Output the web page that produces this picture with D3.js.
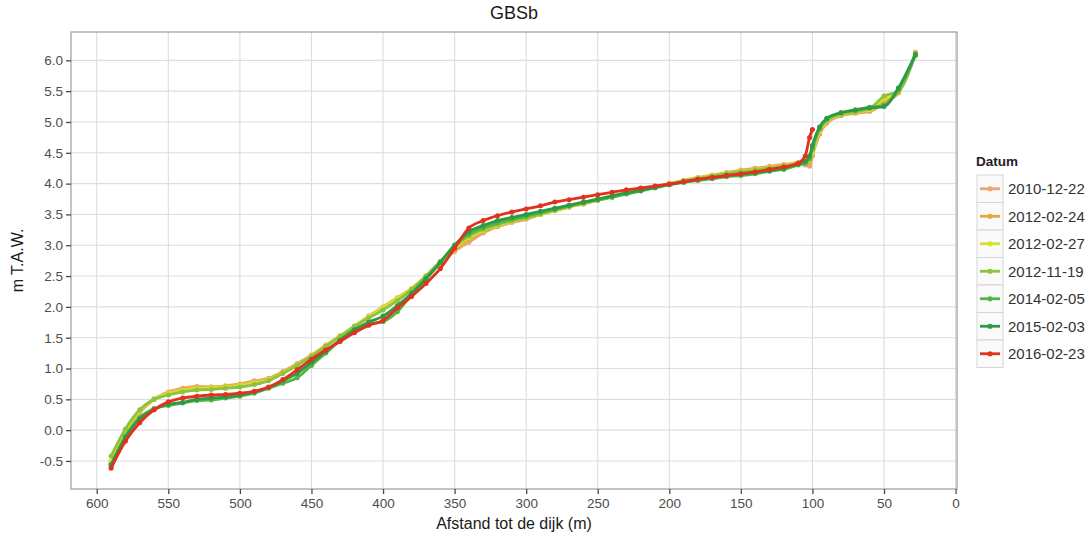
<!DOCTYPE html>
<html>
<head>
<meta charset="utf-8">
<script src="https://cdn.jsdelivr.net/npm/d3@7"></script>
<style>
  html, body { margin: 0; padding: 0; background: #fff; }
  svg { display: block; font-family: "Liberation Sans", Arial, Helvetica, sans-serif; }
</style>
</head>
<body>
<svg id="chart" width="1092" height="538"></svg>
<script>
// Cross-shore profile GBSb: bed level (m T.A.W.) against distance to the dike (m)
const distance = [590,580,570,560,550,540,530,520,510,500,490,480,470,460,450,440,430,420,410,400,
  390,380,370,360,350,340,330,320,310,300,290,280,270,260,250,240,230,220,210,200,
  190,180,170,160,150,140,130,120,110,105,102,100,95,90,80,70,60,50,40,28];

const dates = ["2010-12-22","2012-02-24","2012-02-27","2012-11-19","2014-02-05","2015-02-03","2016-02-23"];
const colors = ["#eea472","#e2a83c","#d6df2e","#8cc43f","#52b547","#2f9a45","#e0321f"];

const z20101222 = [-0.55,-0.05,0.28,0.50,0.62,0.68,0.71,0.70,0.72,0.75,0.80,0.84,0.95,1.08,1.22,1.38,1.52,1.68,1.84,1.98,
  2.12,2.28,2.48,2.70,2.90,3.05,3.20,3.30,3.37,3.42,3.50,3.56,3.62,3.68,3.73,3.79,3.85,3.90,3.95,4.00,
  4.05,4.10,4.14,4.18,4.22,4.25,4.28,4.31,4.33,4.30,4.28,4.45,4.80,4.98,5.10,5.14,5.17,5.30,5.48,6.12];
const z20120224 = [-0.52,-0.04,0.30,0.50,0.60,0.66,0.69,0.70,0.71,0.74,0.78,0.83,0.94,1.07,1.21,1.37,1.53,1.69,1.85,2.00,
  2.15,2.30,2.50,2.72,2.93,3.10,3.22,3.31,3.38,3.43,3.50,3.56,3.62,3.67,3.73,3.79,3.85,3.90,3.95,4.00,
  4.05,4.09,4.13,4.17,4.21,4.24,4.27,4.30,4.34,4.33,4.35,4.48,4.82,5.00,5.11,5.15,5.18,5.33,5.47,6.13];
const z20120227 = [-0.50,-0.02,0.31,0.51,0.60,0.65,0.68,0.69,0.70,0.73,0.77,0.82,0.93,1.06,1.21,1.37,1.53,1.69,1.84,1.99,
  2.14,2.30,2.50,2.73,2.95,3.12,3.24,3.32,3.39,3.44,3.50,3.56,3.62,3.67,3.73,3.79,3.84,3.89,3.94,3.99,
  4.04,4.09,4.13,4.17,4.20,4.23,4.26,4.29,4.34,4.35,4.38,4.50,4.85,5.01,5.12,5.16,5.20,5.38,5.50,6.11];
const z20121119 = [-0.42,0.02,0.33,0.50,0.57,0.62,0.65,0.66,0.68,0.70,0.74,0.80,0.92,1.05,1.20,1.36,1.52,1.68,1.82,1.95,
  2.10,2.28,2.50,2.74,2.98,3.15,3.26,3.34,3.40,3.45,3.51,3.57,3.63,3.68,3.73,3.78,3.84,3.89,3.94,3.99,
  4.04,4.08,4.12,4.16,4.19,4.22,4.25,4.28,4.33,4.36,4.42,4.55,4.88,5.02,5.13,5.17,5.22,5.42,5.50,6.10];
const z20140205 = [-0.58,-0.10,0.20,0.35,0.40,0.44,0.48,0.49,0.52,0.55,0.60,0.68,0.76,0.85,1.05,1.25,1.45,1.62,1.72,1.76,
  1.92,2.20,2.45,2.72,3.00,3.18,3.28,3.36,3.42,3.47,3.53,3.58,3.64,3.69,3.74,3.78,3.83,3.88,3.93,3.98,
  4.02,4.05,4.08,4.11,4.13,4.16,4.20,4.23,4.30,4.33,4.40,4.58,4.90,5.05,5.15,5.20,5.24,5.27,5.52,6.08];
const z20150203 = [-0.56,-0.12,0.18,0.33,0.42,0.45,0.50,0.52,0.54,0.57,0.62,0.69,0.80,0.92,1.10,1.28,1.46,1.63,1.75,1.85,
  2.02,2.22,2.46,2.72,3.00,3.22,3.32,3.40,3.45,3.50,3.55,3.60,3.65,3.70,3.75,3.80,3.85,3.89,3.94,3.99,
  4.03,4.07,4.10,4.13,4.15,4.18,4.21,4.25,4.32,4.36,4.45,4.62,4.92,5.06,5.15,5.19,5.23,5.25,5.55,6.10];
const z20160223 = [-0.62,-0.18,0.12,0.33,0.46,0.52,0.55,0.57,0.58,0.60,0.63,0.70,0.82,0.98,1.15,1.30,1.44,1.58,1.70,1.78,
  1.98,2.17,2.38,2.62,2.95,3.28,3.40,3.48,3.54,3.59,3.64,3.70,3.74,3.78,3.82,3.86,3.90,3.93,3.96,3.99,
  4.03,4.07,4.10,4.13,4.16,4.19,4.23,4.27,4.33,4.45,4.75,4.88,null,null,null,null,null,null,null,null];

const seriesValues = [z20101222, z20120224, z20120227, z20121119, z20140205, z20150203, z20160223];

const xTicks = [600,550,500,450,400,350,300,250,200,150,100,50,0];
const yTicks = [-0.5,0.0,0.5,1.0,1.5,2.0,2.5,3.0,3.5,4.0,4.5,5.0,5.5,6.0];

const svg = d3.select("#chart");
const panel = { left: 71, right: 957, top: 32, bottom: 489 };

// reversed distance axis (sea on the left, dike on the right)
const x = d3.scaleLinear().domain([618, -1]).range([panel.left, panel.right]);
const y = d3.scaleLinear().domain([-0.955, 6.46]).range([panel.bottom, panel.top]);

// panel background and grid
svg.append("rect")
  .attr("x", panel.left).attr("y", panel.top)
  .attr("width", panel.right - panel.left).attr("height", panel.bottom - panel.top)
  .attr("fill", "#fff");

const grid = svg.append("g").attr("stroke", "#dcdde2").attr("stroke-width", 1.1);
grid.selectAll("line.v").data(xTicks).join("line")
  .attr("x1", d => x(d)).attr("x2", d => x(d))
  .attr("y1", panel.top).attr("y2", panel.bottom);
grid.selectAll("line.h").data(yTicks).join("line")
  .attr("y1", d => y(d)).attr("y2", d => y(d))
  .attr("x1", panel.left).attr("x2", panel.right);

svg.append("rect")
  .attr("x", panel.left).attr("y", panel.top)
  .attr("width", panel.right - panel.left).attr("height", panel.bottom - panel.top)
  .attr("fill", "none").attr("stroke", "#a9aab0").attr("stroke-width", 1.4);

// axes (plain hyphen for negative labels)
const fmt = v => d3.format(".1f")(v).replace("\u2212", "-");
const yAxis = svg.append("g")
  .attr("transform", `translate(${panel.left},0)`)
  .call(d3.axisLeft(y).tickValues(yTicks).tickFormat(fmt).tickSize(5).tickPadding(3));
const xAxis = svg.append("g")
  .attr("transform", `translate(0,${panel.bottom})`)
  .call(d3.axisBottom(x).tickValues(xTicks).tickFormat(d3.format("d")).tickSize(5).tickPadding(4));
[xAxis, yAxis].forEach(a => {
  a.select(".domain").remove();
  a.selectAll(".tick line").attr("stroke", "#4a4a4a").attr("stroke-width", 1.3);
  a.selectAll(".tick text").attr("fill", "#4d4d4d").attr("font-size", 13.5)
    .attr("font-family", "Liberation Sans, Arial, sans-serif");
});

// profiles, drawn oldest first so the latest survey sits on top
const line = d3.line()
  .defined(d => d.v !== null)
  .curve(d3.curveMonotoneX)
  .x(d => x(d.d)).y(d => y(d.v));

const plot = svg.append("g");
seriesValues.forEach((vals, i) => {
  const pts = distance.map((d, k) => ({ d: d, v: vals[k] }));
  const g = plot.append("g");
  g.append("path").datum(pts)
    .attr("d", line)
    .attr("fill", "none")
    .attr("stroke", colors[i])
    .attr("stroke-width", 2.8)
    .attr("stroke-linejoin", "round")
    .attr("stroke-linecap", "round");
  g.selectAll("circle").data(pts.filter(p => p.v !== null)).join("circle")
    .attr("cx", p => x(p.d)).attr("cy", p => y(p.v))
    .attr("r", 2.5).attr("fill", colors[i]);
});

// titles
svg.append("text")
  .attr("x", (panel.left + panel.right) / 2).attr("y", 19)
  .attr("text-anchor", "middle").attr("font-size", 18).attr("fill", "#1a1a1a")
  .text("GBSb");
svg.append("text")
  .attr("x", (panel.left + panel.right) / 2).attr("y", 529)
  .attr("text-anchor", "middle").attr("font-size", 16).attr("fill", "#1a1a1a")
  .text("Afstand tot de dijk (m)");
svg.append("text")
  .attr("transform", `translate(23,${(panel.top + panel.bottom) / 2}) rotate(-90)`)
  .attr("text-anchor", "middle").attr("font-size", 16).attr("fill", "#1a1a1a")
  .text("m T.A.W.");

// legend
const legend = svg.append("g").attr("transform", "translate(976,0)");
legend.append("text")
  .attr("x", 0).attr("y", 166)
  .attr("font-size", 13.5).attr("font-weight", "bold").attr("fill", "#222")
  .text("Datum");
const keySize = 27.5, keyTop = 175;
const keys = legend.selectAll("g.key").data(dates).join("g")
  .attr("class", "key")
  .attr("transform", (d, i) => `translate(0,${keyTop + i * keySize})`);
keys.append("rect")
  .attr("x", 1).attr("y", 0).attr("width", 26).attr("height", keySize)
  .attr("fill", "#fafafa").attr("stroke", "#d5d5d8").attr("stroke-width", 1);
keys.append("line")
  .attr("x1", 4).attr("x2", 24)
  .attr("y1", keySize / 2).attr("y2", keySize / 2)
  .attr("stroke", (d, i) => colors[i]).attr("stroke-width", 2.8);
keys.append("circle")
  .attr("cx", 14).attr("cy", keySize / 2).attr("r", 2.6)
  .attr("fill", (d, i) => colors[i]);
keys.append("text")
  .attr("x", 32).attr("y", keySize / 2).attr("dy", "0.36em")
  .attr("font-size", 15).attr("fill", "#333")
  .text(d => d);
</script>
</body>
</html>
